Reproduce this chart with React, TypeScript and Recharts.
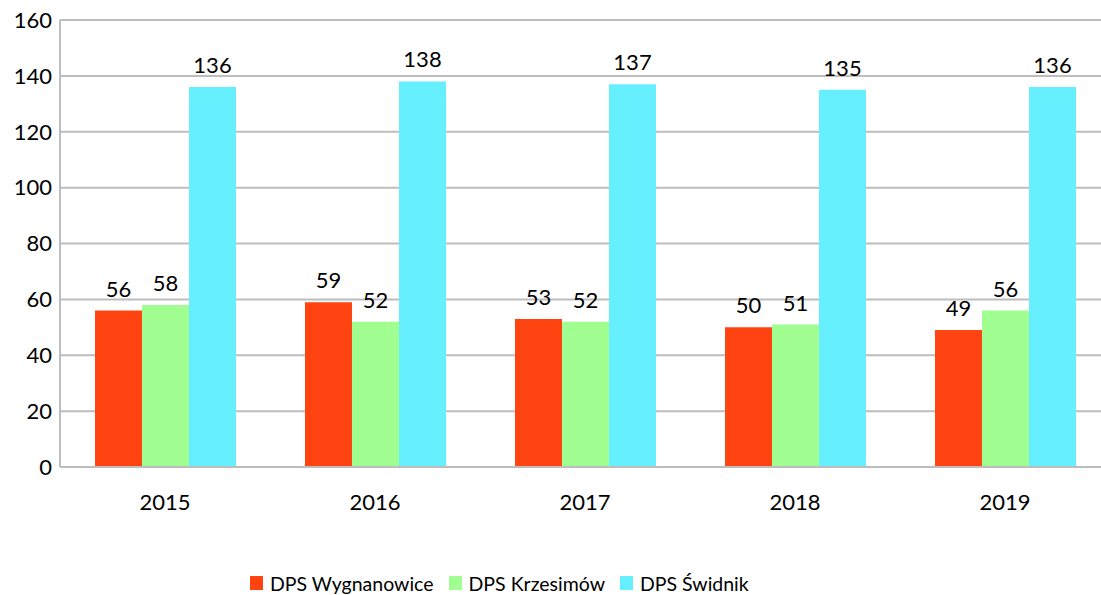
import React from "react";
import { BarChart, Bar, XAxis, YAxis, CartesianGrid, Legend, LabelList } from "recharts";

const years = ["2015", "2016", "2017", "2018", "2019"];
const wygnanowice = [56, 59, 53, 50, 49];
const krzesimow = [58, 52, 52, 51, 56];
const swidnik = [136, 138, 137, 135, 136];
const yTicks = [0, 20, 40, 60, 80, 100, 120, 140, 160];

const seriesNames = ["DPS Wygnanowice", "DPS Krzesimów", "DPS Świdnik"];
const colors = ["#ff4411", "#a0ff90", "#66f0ff"];

const data = years.map((y, i) => ({
  year: y,
  a: wygnanowice[i],
  b: krzesimow[i],
  c: swidnik[i],
}));

const FONT = "Lato, 'Open Sans', sans-serif";

const LegendContent = (props: any) => {
  const payload = [...(props.payload || [])].sort(
    (p: any, q: any) => seriesNames.indexOf(p.value) - seriesNames.indexOf(q.value)
  );
  return (
    <div style={{ display: "flex", alignItems: "center", height: 28, fontFamily: FONT, fontSize: 19.5, color: "#000", whiteSpace: "nowrap" }}>
      {payload.map((p: any, i: number) => (
        <div key={i} style={{ display: "flex", alignItems: "center", marginRight: 15 }}>
          <span style={{ display: "inline-block", width: 13, height: 14, background: p.color, marginRight: 7 }} />
          <span>{p.value}</span>
        </div>
      ))}
    </div>
  );
};

export default function App() {
  return (
    <div style={{ position: "fixed", left: 0, top: 0, width: 1101, height: 595, overflow: "hidden", background: "#fff" }}>
      <BarChart
        width={1110}
        height={595}
        data={data}
        margin={{ top: 20, right: 0, bottom: 38, left: 0 }}
        barCategoryGap={35}
        barGap={0}
      >
        <CartesianGrid vertical={false} stroke="#bdbdbd" strokeWidth={2} />
        <XAxis
          dataKey="year"
          height={60}
          tickSize={0}
          tickMargin={27}
          axisLine={{ stroke: "#bdbdbd", strokeWidth: 2 }}
          tick={{ fill: "#000", fontSize: 22, fontFamily: FONT }}
        />
        <YAxis
          width={60}
          domain={[0, 160]}
          ticks={yTicks}
          interval={0}
          tickSize={0}
          tickMargin={8}
          axisLine={{ stroke: "#bdbdbd", strokeWidth: 2 }}
          tick={{ fill: "#000", fontSize: 22, fontFamily: FONT }}
        />
        <Legend
          height={30}
          content={<LegendContent />}
          wrapperStyle={{ top: 569, bottom: "auto", left: 250, width: 700 }}
        />
        <Bar dataKey="a" name={seriesNames[0]} fill={colors[0]} isAnimationActive={false}>
          <LabelList dataKey="a" position="top" offset={14} style={{ fill: "#000", fontSize: 22, fontFamily: FONT }} />
        </Bar>
        <Bar dataKey="b" name={seriesNames[1]} fill={colors[1]} isAnimationActive={false}>
          <LabelList dataKey="b" position="top" offset={14} style={{ fill: "#000", fontSize: 22, fontFamily: FONT }} />
        </Bar>
        <Bar dataKey="c" name={seriesNames[2]} fill={colors[2]} isAnimationActive={false}>
          <LabelList dataKey="c" position="top" offset={14} style={{ fill: "#000", fontSize: 22, fontFamily: FONT }} />
        </Bar>
      </BarChart>
    </div>
  );
}
